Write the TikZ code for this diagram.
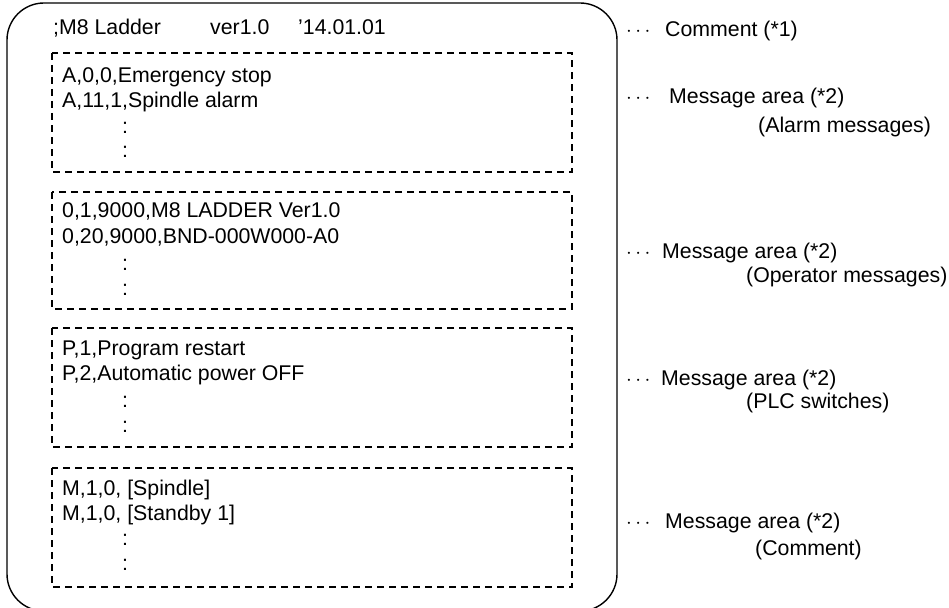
\documentclass[tikz,border=0pt]{standalone}
\usepackage{fontspec}
\setmainfont{Liberation Sans}
\newcommand\lblfont{\fontsize{21.3}{25}\selectfont}
\begin{document}
\begin{tikzpicture}[x=1pt,y=-1pt,
  txt/.style={anchor=base west, inner sep=0pt, font=\lblfont},
  outerbox/.style={draw=black, line width=1.4pt, rounded corners=37pt},
  areabox/.style={draw=black, line width=2.3pt, dash pattern=on 7pt off 5pt}]
\clip (0,0) rectangle (949,607);
\fill[white] (0,0) rectangle (949,607);
% outer rounded frame
\draw[outerbox] (7,3) rectangle (617,611);
% dashed message areas
\draw[areabox] (52,53) rectangle (572,172);
\draw[areabox] (52,192) rectangle (572,309);
\draw[areabox] (52,328) rectangle (572,447);
\draw[areabox] (52,468) rectangle (572,587);
% header comment
\node[txt] (hdr) at (53,35) {;M8 Ladder};
\node[txt] (ver) at (210,35) {ver1.0};
\node[txt] (date) at (298,35) {’14.01.01};
% box 1
\node[txt] (a1) at (62,83) {A,0,0,Emergency stop};
\node[txt] (a2) at (62,107) {A,11,1,Spindle alarm};
\node[txt] (a3) at (122,133) {:};
\node[txt] (a4) at (122,157) {:};
% box 2
\node[txt] (b1) at (62,217) {0,1,9000,M8 LADDER Ver1.0};
\node[txt] (b2) at (62,243) {0,20,9000,BND-000W000-A0};
\node[txt] (b3) at (122,270) {:};
\node[txt] (b4) at (122,295) {:};
% box 3
\node[txt] (c1) at (62,355) {P,1,Program restart};
\node[txt] (c2) at (62,380) {P,2,Automatic power OFF};
\node[txt] (c3) at (122,407) {:};
\node[txt] (c4) at (122,432) {:};
% box 4
\node[txt] (d1) at (62,495) {M,1,0, [Spindle]};
\node[txt] (d2) at (62,520) {M,1,0, [Standby 1]};
\node[txt] (d3) at (122,545) {:};
\node[txt] (d4) at (122,570) {:};
% right-hand labels
\node[txt] (k0) at (626,37) {$\cdots$};
\node[txt] (l0) at (665,37) {Comment (*1)};
\node[txt] (k1) at (626,103) {$\cdots$};
\node[txt] (l1) at (669,103) {Message area (*2)};
\node[txt] (s1) at (758,132) {(Alarm messages)};
\node[txt] (k2) at (626,258) {$\cdots$};
\node[txt] (l2) at (662,258) {Message area (*2)};
\node[txt] (s2) at (746,282) {(Operator messages)};
\node[txt] (k3) at (626,385) {$\cdots$};
\node[txt] (l3) at (661,385) {Message area (*2)};
\node[txt] (s3) at (746,408) {(PLC switches)};
\node[txt] (k4) at (626,528) {$\cdots$};
\node[txt] (l4) at (665,528) {Message area (*2)};
\node[txt] (s4) at (755,555) {(Comment)};
\end{tikzpicture}
\end{document}
